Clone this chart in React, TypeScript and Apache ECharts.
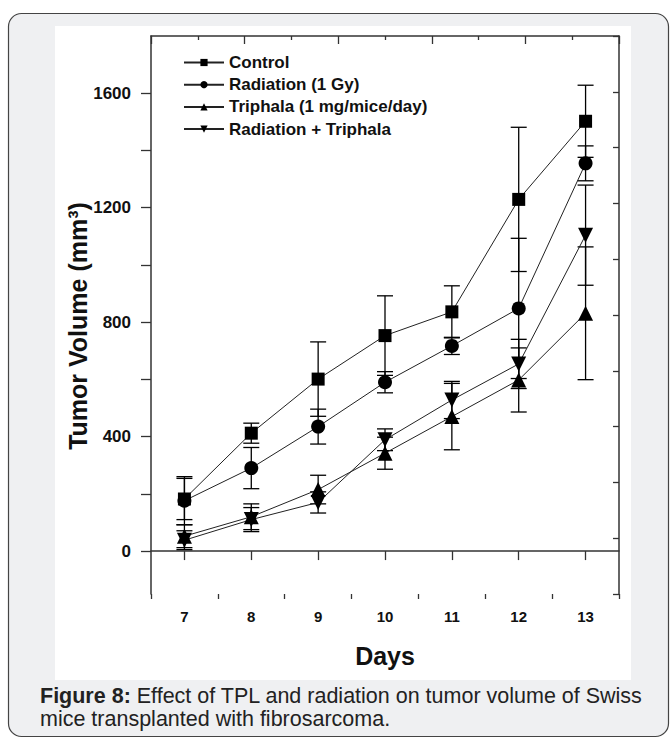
import React, { useEffect, useRef } from "react";
import * as echarts from "echarts";

const days = [7, 8, 9, 10, 11, 12, 13];
const controlMean = [182, 412, 601, 753, 836, 1229, 1502];
const controlErr = [72, 35, 130, 139, 91, 252, 126];
const radiationMean = [176, 290, 435, 590, 717, 848, 1355];
const radiationErr = [84, 72, 61, 37, 30, 245, 61];
const triphalaMean = [52, 120, 215, 342, 470, 598, 831];
const triphalaErr = [40, 45, 50, 56, 116, 112, 232];
const comboMean = [38, 110, 170, 389, 528, 654, 1104];
const comboErr = [33, 42, 37, 38, 65, 86, 175];

const seriesNames = [
  "Control",
  "Radiation (1 Gy)",
  "Triphala (1 mg/mice/day)",
  "Radiation + Triphala",
];
const yTickValues = [0, 200, 400, 600, 800, 1000, 1200, 1400, 1600];
const yLabelValues = [0, 400, 800, 1200, 1600];
const xLabelValues = [7, 8, 9, 10, 11, 12, 13];
const xHalfTicks = [6.5, 7.5, 8.5, 9.5, 10.5, 11.5, 12.5, 13.5];

const FONT = "'Liberation Sans', Arial, sans-serif";
const INK = "#111";

export default function App() {
  const ref = useRef<HTMLDivElement>(null);
  useEffect(() => {
    if (!ref.current) return;
    const chart = echarts.init(ref.current, null, { renderer: "svg" });

    const groups = [
      { name: seriesNames[0], mean: controlMean, err: controlErr, symbol: "rect", size: 13, rot: 0 },
      { name: seriesNames[1], mean: radiationMean, err: radiationErr, symbol: "circle", size: 14, rot: 0 },
      { name: seriesNames[2], mean: triphalaMean, err: triphalaErr, symbol: "triangle", size: 15, rot: 0 },
      { name: seriesNames[3], mean: comboMean, err: comboErr, symbol: "triangle", size: 15, rot: 180 },
    ];

    const errSeries = groups.map((g) => ({
      type: "custom",
      name: g.name + " error",
      xAxisIndex: 0,
      yAxisIndex: 0,
      z: 3,
      silent: true,
      encode: { x: 0, y: [1, 2] },
      data: days.map((d, i) => [d, g.mean[i] - g.err[i], g.mean[i] + g.err[i]]),
      renderItem: (params: any, api: any) => {
        const x = api.value(0);
        const top = api.coord([x, api.value(2)]);
        const bot = api.coord([x, api.value(1)]);
        const w = 8;
        const st = { stroke: "#000", lineWidth: 1.3 };
        return {
          type: "group",
          children: [
            { type: "line", shape: { x1: top[0], y1: top[1], x2: bot[0], y2: bot[1] }, style: st },
            { type: "line", shape: { x1: top[0] - w, y1: top[1], x2: top[0] + w, y2: top[1] }, style: st },
            { type: "line", shape: { x1: bot[0] - w, y1: bot[1], x2: bot[0] + w, y2: bot[1] }, style: st },
          ],
        };
      },
    }));

    const lineSeries = groups.map((g) => ({
      type: "line",
      name: g.name,
      xAxisIndex: 0,
      yAxisIndex: 0,
      z: 4,
      data: days.map((d, i) => [d, g.mean[i]]),
      symbol: g.symbol,
      symbolSize: g.size,
      symbolRotate: g.rot,
      showSymbol: true,
      itemStyle: { color: "#000" },
      lineStyle: { color: "#222", width: 1 },
    }));

    const axisLine = { show: true, lineStyle: { color: "#333", width: 1.5 } };

    const option: any = {
      animation: false,
      backgroundColor: "#ffffff",
      graphic: [
        {
          type: "rect",
          z: -10,
          shape: { x: 8.5, y: 13.5, width: 660, height: 723, r: 13 },
          style: { fill: "#eff0f2", stroke: "#444", lineWidth: 1.2 },
        },
        {
          type: "rect",
          z: -9,
          shape: { x: 55, y: 26, width: 576, height: 654 },
          style: { fill: "#ffffff" },
        },
        {
          type: "text",
          x: 78,
          y: 326,
          rotation: Math.PI / 2,
          style: {
            text: "Tumor Volume (mm³)",
            font: `bold 25px ${FONT}`,
            fill: INK,
            align: "center",
            verticalAlign: "middle",
          },
        },
        {
          type: "text",
          x: 385,
          y: 656,
          style: {
            text: "Days",
            font: `bold 25px ${FONT}`,
            fill: INK,
            align: "center",
            verticalAlign: "middle",
          },
        },
        {
          type: "text",
          x: 40,
          y: 696,
          style: {
            text: "{b|Figure 8:} Effect of TPL and radiation on tumor volume of Swiss",
            font: `21.5px ${FONT}`,
            fill: "#222",
            align: "left",
            verticalAlign: "middle",
            rich: { b: { fontWeight: "bold", fontSize: 21.5, fontFamily: FONT, fill: "#222" } },
          },
        },
        {
          type: "text",
          x: 40,
          y: 719,
          style: {
            text: "mice transplanted with fibrosarcoma.",
            font: `21.5px ${FONT}`,
            fill: "#222",
            align: "left",
            verticalAlign: "middle",
          },
        },
      ],
      grid: { left: 151, top: 36, width: 468, height: 558, containLabel: false },
      legend: {
        data: seriesNames,
        orient: "vertical",
        left: 178,
        top: 49,
        itemWidth: 40,
        itemHeight: 9,
        itemGap: 5.2,
        textStyle: { fontFamily: FONT, fontWeight: "bold", fontSize: 17, color: INK, lineHeight: 17 },
      },
      xAxis: [
        {
          type: "value",
          position: "bottom",
          min: 6.5,
          max: 13.5,
          axisLine,
          splitLine: { show: false },
          axisTick: { show: true, customValues: xLabelValues, length: 9, lineStyle: { color: "#333", width: 1.3 } },
          axisLabel: {
            show: true,
            customValues: xLabelValues,
            margin: 15,
            fontFamily: FONT,
            fontWeight: "bold",
            fontSize: 15,
            color: INK,
            formatter: (v: number) => String(v),
          },
        },
        {
          type: "value",
          position: "bottom",
          min: 6.5,
          max: 13.5,
          axisLine: { show: false },
          splitLine: { show: false },
          axisTick: { show: true, customValues: xHalfTicks, length: 5, lineStyle: { color: "#333", width: 1.3 } },
          axisLabel: { show: false },
        },
        {
          type: "value",
          position: "top",
          min: 0,
          max: 10,
          interval: 2,
          axisLine,
          splitLine: { show: false },
          axisTick: { show: true, inside: true, length: 8, lineStyle: { color: "#333", width: 1.3 } },
          minorTick: { show: true, splitNumber: 2, length: 4, lineStyle: { color: "#333", width: 1.3 } },
          axisLabel: { show: false },
        },
      ],
      yAxis: [
        {
          type: "value",
          position: "left",
          min: -150,
          max: 1800,
          axisLine,
          splitLine: { show: false },
          axisTick: { show: true, customValues: yTickValues, length: 10, lineStyle: { color: "#333", width: 1.3 } },
          axisLabel: {
            show: true,
            customValues: yLabelValues,
            margin: 20,
            fontFamily: FONT,
            fontWeight: "bold",
            fontSize: 17,
            color: INK,
            formatter: (v: number) => String(v),
          },
        },
        {
          type: "value",
          position: "right",
          min: 0,
          max: 10,
          interval: 1,
          axisLine,
          splitLine: { show: false },
          axisTick: { show: true, inside: true, length: 6, lineStyle: { color: "#333", width: 1.3 } },
          axisLabel: { show: false },
        },
      ],
      series: [...errSeries, ...lineSeries],
    };

    chart.setOption(option);
    return () => chart.dispose();
  }, []);

  return (
    <div
      ref={ref}
      style={{ position: "absolute", left: 0, top: 0, width: 671, height: 738 }}
    />
  );
}
